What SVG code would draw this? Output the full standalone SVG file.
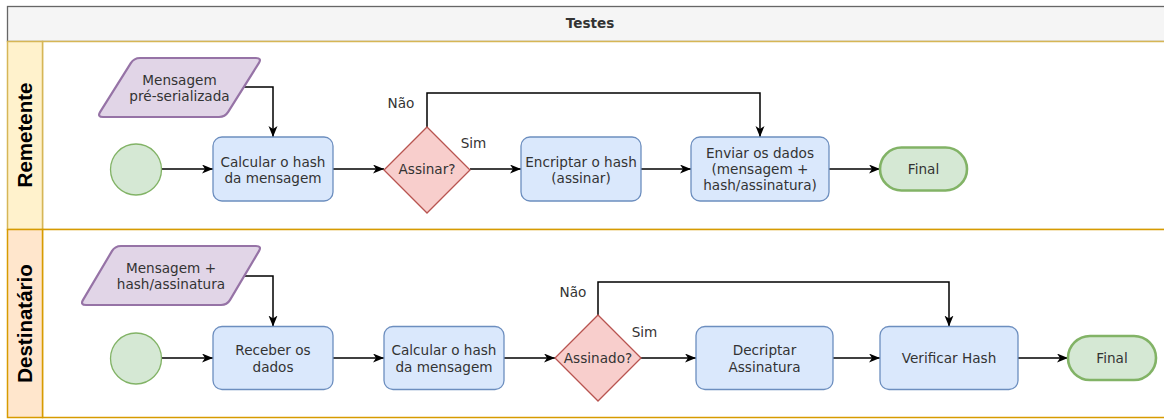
<svg xmlns="http://www.w3.org/2000/svg" width="1164" height="419" viewBox="0 0 1164 419">
  <defs>
    <marker id="arrow" markerUnits="userSpaceOnUse" markerWidth="12" markerHeight="10" refX="11" refY="4.5" orient="auto">
      <path d="M0,0 L11,4.5 L0,9 L3,4.5 Z" fill="#000"/>
    </marker>
    <style>
      .lbl { font-family: "DejaVu Sans", Verdana, sans-serif; font-size: 13.6px; fill: #333; text-anchor: middle; }
      .hdr { font-family: "Liberation Sans", Arial, sans-serif; font-size: 20.5px; font-weight: bold; fill: #000; text-anchor: middle; }
      .title { font-family: "DejaVu Sans", Verdana, sans-serif; font-size: 13.6px; font-weight: bold; fill: #333; text-anchor: middle; }
      .proc { fill: #dae8fc; stroke: #6c8ebf; stroke-width: 1.3; }
      .dec { fill: #f8cecc; stroke: #b85450; stroke-width: 1.3; }
      .data { fill: #e1d5e7; stroke: #9673a6; stroke-width: 2.2; }
      .start { fill: #d5e8d4; stroke: #82b366; stroke-width: 1.3; }
      .end { fill: #d5e8d4; stroke: #82b366; stroke-width: 2.6; }
      .edge { fill: none; stroke: #000; stroke-width: 1.5; marker-end: url(#arrow); }
    </style>
  </defs>

  <rect width="1164" height="419" fill="#fff"/>

  <!-- pool and lanes -->
  <g id="pool">
    <rect x="7.5" y="6.5" width="1165" height="35" fill="#f5f5f5" stroke="#666666" stroke-width="1.3"/>
    <text class="title" x="590" y="28">Testes</text>
  </g>
  <g id="lane-remetente">
    <rect x="42.5" y="41.5" width="1130" height="188" fill="#fff" stroke="#d6b656" stroke-width="1.5"/>
    <rect x="7.5" y="41.5" width="35" height="188" fill="#fff2cc" stroke="#d6b656" stroke-width="1.5"/>
    <text class="hdr" transform="translate(25,135) rotate(-90)" y="7.3">Remetente</text>
  </g>
  <g id="lane-destinatario">
    <rect x="42.5" y="229.5" width="1130" height="188" fill="#fff" stroke="#d79b00" stroke-width="1.5"/>
    <rect x="7.5" y="229.5" width="35" height="188" fill="#ffe6cc" stroke="#d79b00" stroke-width="1.5"/>
    <text class="hdr" transform="translate(25,323.5) rotate(-90)" y="7.3">Destinatário</text>
  </g>

  <!-- connectors -->
  <g id="connectors">
    <path class="edge" d="M162,169 L213,169"/>
    <path class="edge" d="M244,87 L273,87 L273,137"/>
    <path class="edge" d="M333,169 L384,169"/>
    <path class="edge" d="M470,169 L521,169"/>
    <path class="edge" d="M427,127 L427,93 L760,93 L760,137"/>
    <path class="edge" d="M641,169 L691,169"/>
    <path class="edge" d="M829,169 L880,169"/>

    <path class="edge" d="M162,358 L213,358"/>
    <path class="edge" d="M244,276 L273,276 L273,326.5"/>
    <path class="edge" d="M333,358 L384,358"/>
    <path class="edge" d="M504,358 L555,358"/>
    <path class="edge" d="M598,315 L598,282 L949,282 L949,326.5"/>
    <path class="edge" d="M641,358 L696,358"/>
    <path class="edge" d="M833,358 L880,358"/>
    <path class="edge" d="M1018,358 L1068,358"/>

    <text class="lbl" x="401" y="108">Não</text>
    <text class="lbl" x="473.5" y="148">Sim</text>
    <text class="lbl" x="573" y="297">Não</text>
    <text class="lbl" x="644.5" y="337">Sim</text>
  </g>

  <!-- Remetente lane nodes -->
  <g id="r-start">
    <circle class="start" cx="136" cy="169.5" r="25.5"/>
  </g>
  <g id="r-input">
    <path class="data" d="M140,58 L256,58 Q262,58 258.81,63.08 L228.19,111.92 Q225,117 219,117 L103,117 Q97,117 100.19,111.92 L130.81,63.08 Q134,58 140,58 Z"/>
    <text class="lbl" x="179.5" y="84.5">Mensagem</text>
    <text class="lbl" x="179.5" y="101">pré-serializada</text>
  </g>
  <g id="r-hash">
    <rect class="proc" x="213" y="137" width="120" height="64" rx="9"/>
    <text class="lbl" x="273" y="166.5">Calcular o hash</text>
    <text class="lbl" x="273" y="183">da mensagem</text>
  </g>
  <g id="r-sign-q">
    <path class="dec" d="M427,127 L470,170 L427,213 L384,170 Z"/>
    <text class="lbl" x="427" y="174">Assinar?</text>
  </g>
  <g id="r-encrypt">
    <rect class="proc" x="521" y="137" width="120" height="64" rx="9"/>
    <text class="lbl" x="581" y="166.5">Encriptar o hash</text>
    <text class="lbl" x="581" y="183">(assinar)</text>
  </g>
  <g id="r-send">
    <rect class="proc" x="691" y="137" width="138" height="64" rx="9"/>
    <text class="lbl" x="760" y="158">Enviar os dados</text>
    <text class="lbl" x="760" y="174">(mensagem +</text>
    <text class="lbl" x="760" y="190">hash/assinatura)</text>
  </g>
  <g id="r-end">
    <rect class="end" x="880" y="147.5" width="87" height="43" rx="21.5"/>
    <text class="lbl" x="923.5" y="174">Final</text>
  </g>

  <!-- Destinatário lane nodes -->
  <g id="d-start">
    <circle class="start" cx="136" cy="358.5" r="25.5"/>
  </g>
  <g id="d-input">
    <path class="data" d="M121,246 L256,246 Q262,246 258.94,251.16 L230.06,299.84 Q227,305 221,305 L86,305 Q80,305 83.06,299.84 L111.94,251.16 Q115,246 121,246 Z"/>
    <text class="lbl" x="171" y="272.5">Mensagem +</text>
    <text class="lbl" x="171" y="289">hash/assinatura</text>
  </g>
  <g id="d-receive">
    <rect class="proc" x="213" y="326.5" width="120" height="63" rx="9"/>
    <text class="lbl" x="273" y="355">Receber os</text>
    <text class="lbl" x="273" y="371.5">dados</text>
  </g>
  <g id="d-hash">
    <rect class="proc" x="384" y="326.5" width="120" height="63" rx="9"/>
    <text class="lbl" x="444" y="355">Calcular o hash</text>
    <text class="lbl" x="444" y="371.5">da mensagem</text>
  </g>
  <g id="d-signed-q">
    <path class="dec" d="M598,315 L641,358 L598,401 L555,358 Z"/>
    <text class="lbl" x="598" y="362.5">Assinado?</text>
  </g>
  <g id="d-decrypt">
    <rect class="proc" x="696" y="326.5" width="137" height="63" rx="9"/>
    <text class="lbl" x="764.5" y="355">Decriptar</text>
    <text class="lbl" x="764.5" y="371.5">Assinatura</text>
  </g>
  <g id="d-verify">
    <rect class="proc" x="880" y="326.5" width="138" height="63" rx="9"/>
    <text class="lbl" x="949" y="362.5">Verificar Hash</text>
  </g>
  <g id="d-end">
    <rect class="end" x="1068" y="336" width="88" height="44" rx="22"/>
    <text class="lbl" x="1112" y="362.5">Final</text>
  </g>
</svg>
